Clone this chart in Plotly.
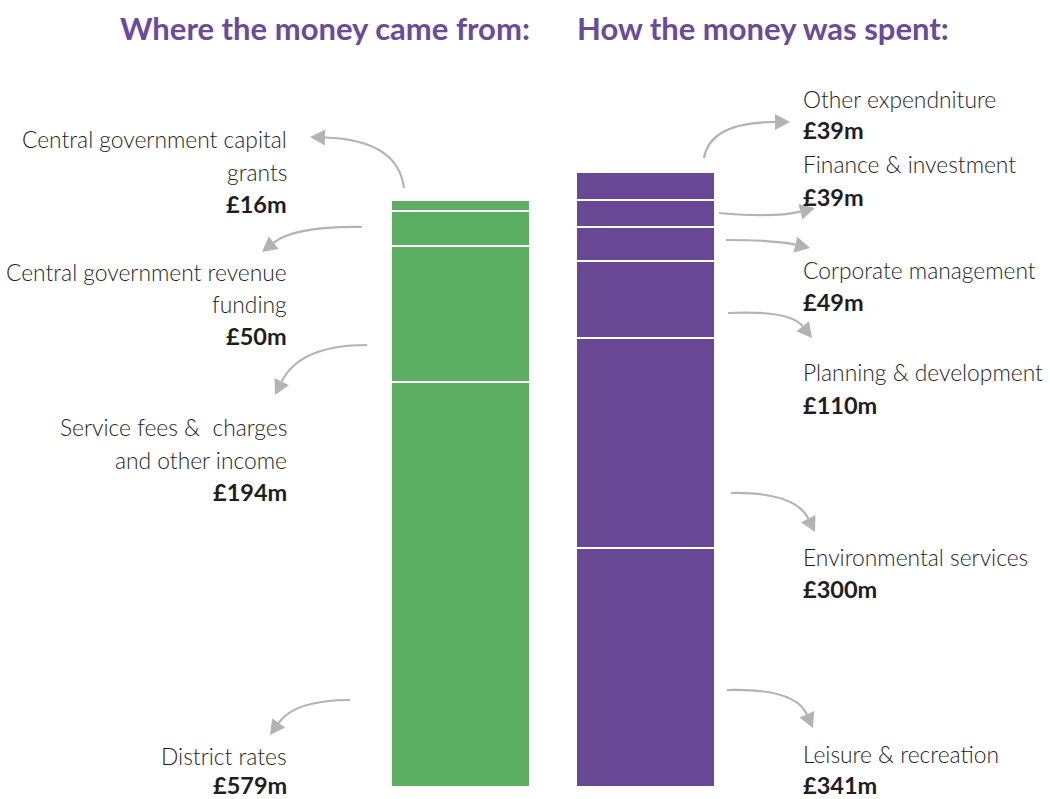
import plotly.graph_objects as go

# ---- data ----
income_names = ["District rates", "Service fees &  charges<br>and other income",
                "Central government revenue<br>funding", "Central government capital<br>grants"]
income_values = [579, 194, 50, 16]
spend_names = ["Leisure & recreation", "Environmental services", "Planning & development",
               "Corporate management", "Finance & investment", "Other expendniture"]
spend_values = [341, 300, 110, 49, 39, 39]

GREEN = "#5cae62"
PURPLE = "#684895"
TITLE_C = "#6a4a9a"
GREY = "#b3b3b3"
TXT = "#1e1e1e"

W, H = 1050, 799
SCALE = 0.7     # px per £m
BASE = 787      # pixel row of zero
def Y(py):
    return (BASE - py) / SCALE

fig = go.Figure()
for v in income_values:
    fig.add_trace(go.Bar(x=[460.5], y=[v], width=139, marker=dict(color=GREEN, line=dict(color="white", width=2)),
                         hoverinfo="skip", showlegend=False))
for v in spend_values:
    fig.add_trace(go.Bar(x=[645.5], y=[v], width=139, marker=dict(color=PURPLE, line=dict(color="white", width=2)),
                         hoverinfo="skip", showlegend=False))

ann = []
FONT = "Lato"
def txt(x, py, s, anchor, bold=False):
    ann.append(dict(x=x, y=Y(py), xref="x", yref="y", text=s, showarrow=False, xanchor=anchor,
                    yanchor="middle",
                    font=dict(family=FONT, size=23.5 if bold else 22.8, color=TXT, weight=700 if bold else 300)))

# titles
ann.append(dict(x=325, y=Y(28), xref="x", yref="y", text="Where the money came from:", showarrow=False,
                xanchor="center", yanchor="middle", font=dict(family=FONT, size=31, color=TITLE_C, weight=700)))
ann.append(dict(x=763, y=Y(28), xref="x", yref="y", text="How the money was spent:", showarrow=False,
                xanchor="center", yanchor="middle", font=dict(family=FONT, size=31, color=TITLE_C, weight=700)))

# left labels (line pixel rows)
left_rows = [[756, 785], [427, 460, 492], [272, 304, 336], [139, 172, 204]]
for name, val, rows in zip(income_names, income_values, left_rows):
    lines = name.split("<br>")
    for ln, r in zip(lines, rows):
        txt(289, r, ln, "right")
    txt(289, rows[-1], f"£{val}m", "right", bold=True)

right_rows = [[754, 785], [557, 589], [372, 405], [270, 302], [164, 197], [99, 130]]
for name, val, rows in zip(spend_names, spend_values, right_rows):
    txt(801, rows[0], name, "left")
    txt(801, rows[1], f"£{val}m", "left", bold=True)

# curved arrows: (start, control, tip) in pixel space
arrows = [
    ((404, 188), (398, 140), (310, 137)),
    ((362, 227), (295, 226), (262, 252)),
    ((367, 345), (300, 345), (275, 395)),
    ((350, 700), (295, 700), (270, 735)),
    ((704, 158), (710, 122), (790, 122)),
    ((719, 213), (775, 218), (815, 208)),
    ((726, 240), (775, 240), (810, 248)),
    ((728, 313), (790, 310), (812, 338)),
    ((731, 493), (795, 492), (815, 532)),
    ((727, 690), (795, 688), (813, 728)),
]
shapes = []
for (sx, sy), (cx, cy), (tx, ty) in arrows:
    dx, dy = tx - cx, ty - cy
    n = (dx * dx + dy * dy) ** 0.5
    ux, uy = dx / n, dy / n
    L, Wd = 15, 8
    bx, by = tx - L * ux, ty - L * uy
    px, py = -uy, ux
    path = f"M {sx},{Y(sy)} Q {cx},{Y(cy)} {bx},{Y(by)}"
    shapes.append(dict(type="path", path=path, xref="x", yref="y", line=dict(color=GREY, width=2.2)))
    tri = (f"M {tx},{Y(ty)} L {bx + Wd * px},{Y(by + Wd * py)} L {bx - Wd * px},{Y(by - Wd * py)} Z")
    shapes.append(dict(type="path", path=tri, xref="x", yref="y", line=dict(width=0), fillcolor=GREY))

fig.update_layout(
    width=W, height=H, barmode="stack", bargap=0,
    margin=dict(l=0, r=0, t=0, b=0),
    plot_bgcolor="white", paper_bgcolor="white",
    xaxis=dict(range=[0, W], visible=False, fixedrange=True),
    yaxis=dict(range=[Y(H), Y(0)], visible=False, fixedrange=True),
    annotations=ann, shapes=shapes,
)
fig.write_html("out.html", config={"displayModeBar": False},
               post_script="document.body.style.margin='0';document.body.style.overflow='hidden';")
